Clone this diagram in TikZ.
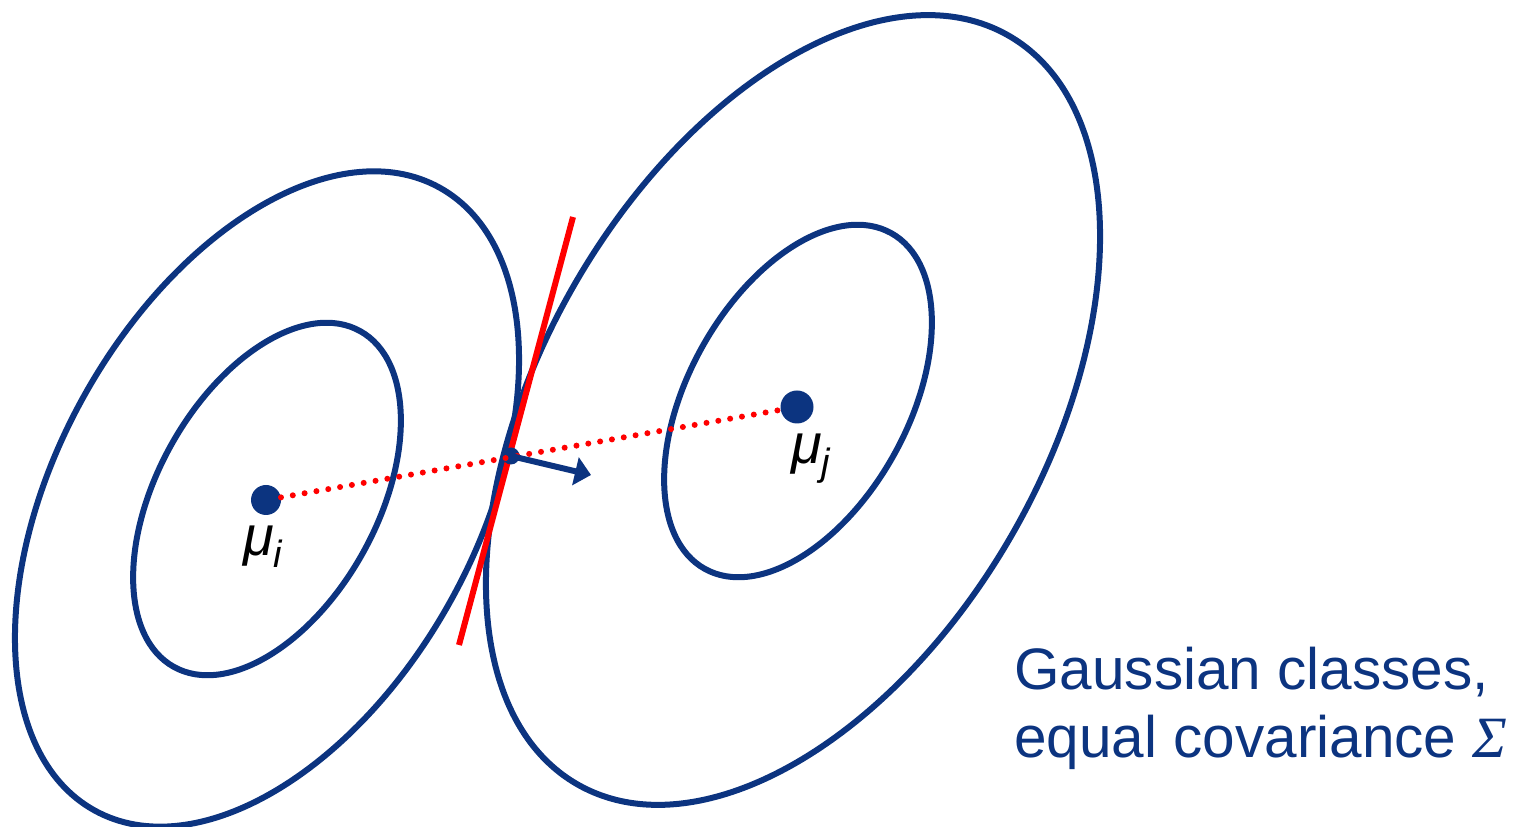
\documentclass[tikz,border=0pt]{standalone}
\usepackage{fontspec}
\setmainfont{Liberation Sans}
\newfontfamily\serifit{Liberation Serif}
\usetikzlibrary{arrows.meta}
\definecolor{navy}{RGB}{12,52,128}
\begin{document}
\begin{tikzpicture}[x=1pt,y=1pt,
  contour/.style={draw=navy,line width=6pt},
  meandot/.style={circle,fill=navy,draw=none,inner sep=0pt,minimum size=#1},
  lbl/.style={text=black,font=\fontsize{56}{60}\selectfont\itshape,inner sep=0pt,anchor=base west},
  caption/.style={text=navy,font=\fontsize{58.5}{68}\selectfont,inner sep=0pt,anchor=base west},
  ]
\useasboundingbox (0,0) rectangle (1531,827);
% ellipses
\draw[contour,rotate around={61:(267,328)}] (267,328) ellipse [x radius=356pt, y radius=210pt];
\draw[contour,rotate around={61:(267,328)}] (267,328) ellipse [x radius=192pt, y radius=110pt];
\draw[contour,rotate around={60:(793,417)}] (793,417) ellipse [x radius=432pt, y radius=252pt];
\draw[contour,rotate around={61:(798,426)}] (798,426) ellipse [x radius=192pt, y radius=110pt];
% tangent line
\coordinate (r1) at (573,610);
\coordinate (r2) at (459,182);
\draw[red,line width=6pt] (r1) -- (r2);
% means
\node[meandot=30pt] (mi) at (266,327) {};
\node[meandot=33pt] (mj) at (797,420) {};
\node[meandot=17pt] (t) at (511,371) {};
\draw[red,line width=6pt,line cap=round,dash pattern=on 0pt off 12pt] (mi) -- (mj);
% normal arrow
\coordinate (tip) at (591,352);
\draw[navy,line width=6pt,-{Triangle[length=16pt,width=28pt]}] (t.center) -- (tip);
% labels
\node[lbl] (li) at (243,271) {μ\raisebox{-12pt}{\fontsize{38}{40}\selectfont i}};
\node[lbl] (lj) at (791,363) {μ\raisebox{-12pt}{\fontsize{38}{40}\selectfont j}};
\node[caption] (c1) at (1014,137) {Gaussian classes,};
\node[caption] (c2) at (1014,69) {equal covariance {\serifit\itshape Σ}};
\end{tikzpicture}
\end{document}
